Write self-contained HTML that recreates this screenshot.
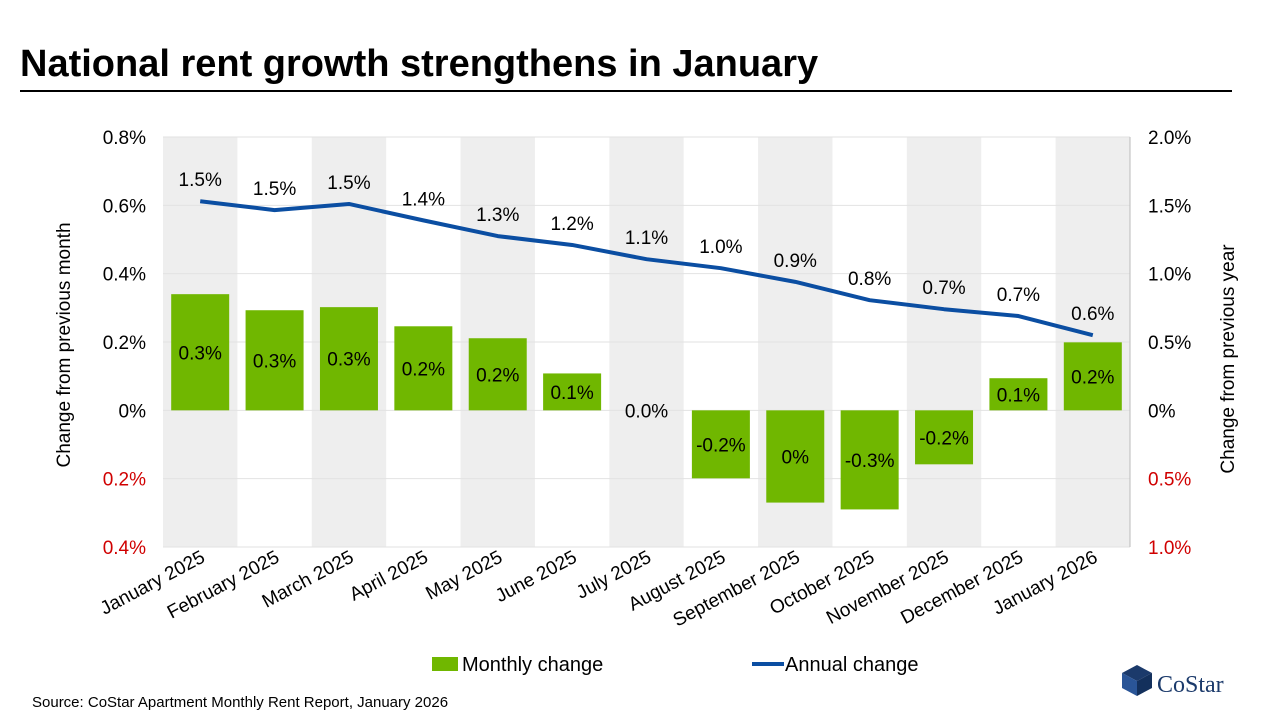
<!DOCTYPE html>
<html><head><meta charset="utf-8"><style>
body{margin:0;width:1280px;height:720px;background:#fff;overflow:hidden;font-family:"Liberation Sans",Arial,sans-serif}
</style></head><body>
<svg id="svg" width="1280" height="720" xmlns="http://www.w3.org/2000/svg" font-family="Liberation Sans, Arial, sans-serif">
<text x="20" y="76" font-size="38" font-weight="bold" fill="#000">National rent growth strengthens in January</text>
<line x1="20" y1="91" x2="1232" y2="91" stroke="#000" stroke-width="2"/>
<g id="bands"></g><g id="grid"></g><g id="bars"></g><g id="line"></g><g id="labels"></g><g id="axes"></g>
<text transform="translate(70,345) rotate(-90)" text-anchor="middle" font-size="19">Change from previous month</text>
<text transform="translate(1234,359) rotate(-90)" text-anchor="middle" font-size="19">Change from previous year</text>
<rect x="432" y="657" width="26" height="14" fill="#70b700"/>
<text x="462" y="671" font-size="20">Monthly change</text>
<line x1="752" y1="664" x2="784" y2="664" stroke="#0b4ea2" stroke-width="4"/>
<text x="785" y="671" font-size="20">Annual change</text>
<text x="32" y="707" font-size="15">Source: CoStar Apartment Monthly Rent Report, January 2026</text>
<g>
<polygon points="1137,665 1152,673 1137,681 1122,673" fill="#1b3a6b"/>
<polygon points="1122,673 1137,681 1137,696 1122,688" fill="#2a5597"/>
<polygon points="1152,673 1137,681 1137,696 1152,688" fill="#13305c"/>
<text x="1157" y="692" font-family="Liberation Serif, serif" font-size="24" fill="#1b3a6b">CoStar</text>
</g>
</svg>
<script>
const categories=["January 2025","February 2025","March 2025","April 2025","May 2025","June 2025","July 2025","August 2025","September 2025","October 2025","November 2025","December 2025","January 2026"];
const monthly=[0.34,0.293,0.302,0.246,0.211,0.108,0,-0.199,-0.27,-0.29,-0.158,0.094,0.199];
const monthlyLabels=["0.3%","0.3%","0.3%","0.2%","0.2%","0.1%","0.0%","-0.2%","0%","-0.3%","-0.2%","0.1%","0.2%"];
const annual=[1.53,1.465,1.51,1.39,1.275,1.21,1.106,1.04,0.94,0.806,0.74,0.69,0.55];
const annualLabels=["1.5%","1.5%","1.5%","1.4%","1.3%","1.2%","1.1%","1.0%","0.9%","0.8%","0.7%","0.7%","0.6%"];
const leftTicks=[0.8,0.6,0.4,0.2,0,-0.2,-0.4];
const leftTickLabels=["0.8%","0.6%","0.4%","0.2%","0%","0.2%","0.4%"];
const rightTicks=[2,1.5,1,0.5,0,-0.5,-1];
const rightTickLabels=["2.0%","1.5%","1.0%","0.5%","0%","0.5%","1.0%"];
const NS="http://www.w3.org/2000/svg";
const X0=163,X1=1130,Y0=137,Y1=547;
const bw=(X1-X0)/categories.length;
const yL=v=>Y0+(0.8-v)/1.2*(Y1-Y0);
const yR=v=>Y0+(2-v)/3*(Y1-Y0);
const xC=i=>X0+bw*(i+0.5);
function mk(p,t,a){const e=document.createElementNS(NS,t);for(const k in a)e.setAttribute(k,a[k]);document.getElementById(p).appendChild(e);return e;}
categories.forEach((c,i)=>{if(i%2==0){const r=mk('bands','rect',{x:X0+bw*i,y:Y0,width:bw,height:Y1-Y0,fill:'#eeeeee'});

}});
leftTicks.forEach((v,i)=>{const l=mk('grid','line',{x1:X0,x2:X1,y1:yL(v),y2:yL(v),stroke:'#e2e2e2','stroke-width':1});


const t=mk('axes','text',{x:146,y:yL(v)+7,'text-anchor':'end','font-size':19,fill:v<0?'#d00000':'#000'});t.textContent=leftTickLabels[i];

});
rightTicks.forEach((v,i)=>{const t=mk('axes','text',{x:1148,y:yR(v)+7,'font-size':19,fill:v<0?'#d00000':'#000'});t.textContent=rightTickLabels[i];

});
const ax=mk('axes','line',{x1:X1,x2:X1,y1:Y0,y2:Y1,stroke:'#bbb'});


categories.forEach((c,i)=>{
const v=monthly[i],y0=yL(0),y=yL(v);
const r=mk('bars','rect',{x:xC(i)-29,y:Math.min(y,y0),width:58,height:Math.abs(y-y0),fill:'#70b700'});


const ly=(Math.abs(y-y0)<30)?y0+7:(y+y0)/2+7;
const t=mk('labels','text',{x:xC(i),y:v===0?y0+7:ly,'text-anchor':'middle','font-size':19});t.textContent=monthlyLabels[i];


const t2=mk('labels','text',{x:xC(i),y:yR(annual[i])-15,'text-anchor':'middle','font-size':19});t2.textContent=annualLabels[i];


const cl=mk('axes','text',{transform:`translate(${xC(i)+6},${Y1+14}) rotate(-28)`,'text-anchor':'end','font-size':19});cl.textContent=c;


});
const pl=mk('line','polyline',{points:annual.map((v,i)=>xC(i)+','+yR(v)).join(' '),fill:'none',stroke:'#0b4ea2','stroke-width':4,'stroke-linejoin':'round'});


</script>
</body></html>
